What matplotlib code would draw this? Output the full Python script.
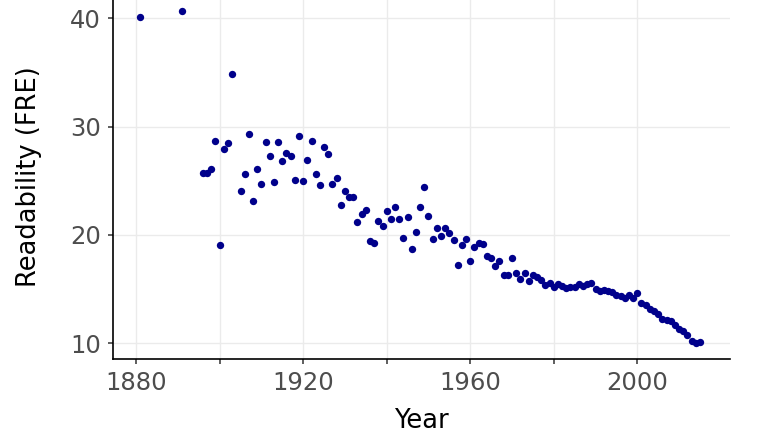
import matplotlib
matplotlib.use("Agg")
import matplotlib.pyplot as plt
import numpy as np

# readability (Flesch reading ease) by year
years = [1881, 1891,
         1896, 1897, 1898, 1899, 1900, 1901, 1902, 1903,
         1905, 1906, 1907, 1908, 1909, 1910,
         1911, 1912, 1913, 1914, 1915, 1916, 1917, 1918, 1919, 1920,
         1921, 1922, 1923, 1924, 1925, 1926, 1927, 1928, 1929, 1930,
         1931, 1932, 1933, 1934, 1935, 1936, 1937, 1938, 1939, 1940,
         1941, 1942, 1943, 1944, 1945, 1946, 1947, 1948, 1949, 1950,
         1951, 1952, 1953, 1954, 1955, 1956, 1957, 1958, 1959, 1960,
         1961, 1962, 1963, 1964, 1965, 1966, 1967, 1968, 1969, 1970,
         1971, 1972, 1973, 1974, 1975, 1976, 1977, 1978, 1979, 1980,
         1981, 1982, 1983, 1984, 1985, 1986, 1987, 1988, 1989, 1990,
         1991, 1992, 1993, 1994, 1995, 1996, 1997, 1998, 1999, 2000,
         2001, 2002, 2003, 2004, 2005, 2006, 2007, 2008, 2009, 2010,
         2011, 2012, 2013, 2014, 2015]
fre = [40.15, 40.7,
       25.7, 25.75, 26.05, 28.7, 19.1, 27.95, 28.45, 34.9,
       24.05, 25.65, 29.3, 23.1, 26.1, 24.7,
       28.6, 27.3, 24.9, 28.55, 26.8, 27.6, 27.3, 25.05, 29.1, 24.95,
       26.9, 28.7, 25.65, 24.6, 28.15, 27.5, 24.7, 25.3, 22.8, 24.05,
       23.5, 23.5, 21.2, 21.9, 22.3, 19.45, 19.3, 21.25, 20.85, 22.25,
       21.5, 22.6, 21.5, 19.75, 21.7, 18.7, 20.25, 22.6, 24.45, 21.75,
       19.6, 20.6, 19.9, 20.6, 20.2, 19.5, 17.2, 19.05, 19.6, 17.6,
       18.9, 19.3, 19.15, 18.1, 17.9, 17.1, 17.6, 16.3, 16.3, 17.9,
       16.45, 15.9, 16.45, 15.75, 16.3, 16.1, 15.85, 15.35, 15.6, 15.2,
       15.5, 15.3, 15.1, 15.2, 15.2, 15.45, 15.3, 15.5, 15.6, 15.0,
       14.8, 14.9, 14.8, 14.75, 14.5, 14.4, 14.2, 14.45, 14.2, 14.6,
       13.75, 13.5, 13.2, 13.0, 12.75, 12.2, 12.15, 12.05, 11.7, 11.3,
       11.1, 10.75, 10.25, 10.0, 10.1]

x_ticks = [1880, 1900, 1920, 1940, 1960, 1980, 2000]
x_labels = ["1880", "", "1920", "", "1960", "", "2000"]
y_ticks = [10, 20, 30, 40]

plt.rcParams['font.family'] = ['DejaVu Sans']

fig = plt.figure(figsize=(7.63, 4.42), dpi=100)
ax = fig.add_axes([0.1477, 0.187, 0.8091, 0.8255])

ax.scatter(years, fre, s=28, color='#00008B', linewidths=0, zorder=3)

ax.set_xlim(1874.4, 2022.2)
ax.set_ylim(8.52, 42.2)
ax.set_xticks(x_ticks)
ax.set_xticklabels(x_labels)
ax.set_yticks(y_ticks)

ax.grid(True, color='#EBEBEB', linewidth=1.0, zorder=0)
ax.set_axisbelow(True)

for side in ['top', 'right']:
    ax.spines[side].set_visible(False)
for side in ['left', 'bottom']:
    ax.spines[side].set_linewidth(1.2)
    ax.spines[side].set_color('black')

ax.tick_params(axis='both', colors='#333333', labelcolor='#4D4D4D',
               labelsize=17.5, length=3.5, width=1.1)
ax.tick_params(axis='x', pad=5)
ax.tick_params(axis='y', pad=5)

ax.set_xlabel("Year", fontsize=18.5, color='black', labelpad=9)
ax.set_ylabel("Readability (FRE)", fontsize=18.5, color='black', labelpad=20)

fig.savefig("out.png", dpi=100)
